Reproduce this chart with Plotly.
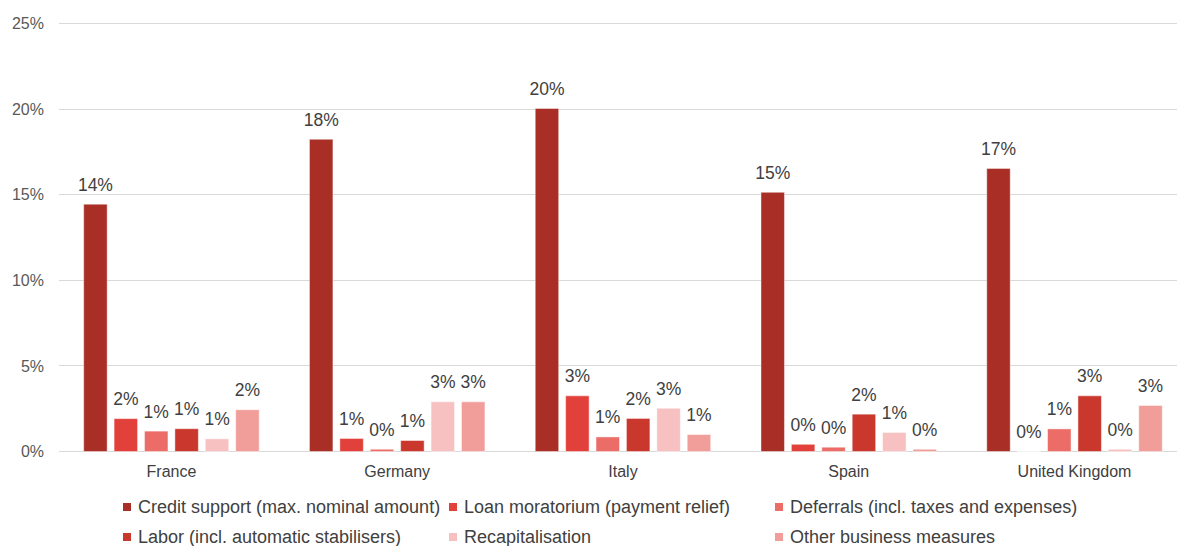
import plotly.graph_objects as go

# ---------------- data (percent of GDP) ----------------
countries = ["France", "Germany", "Italy", "Spain", "United Kingdom"]
series_names = [
    "Credit support (max. nominal amount)",
    "Loan moratorium (payment relief)",
    "Deferrals (incl. taxes and expenses)",
    "Labor (incl. automatic stabilisers)",
    "Recapitalisation",
    "Other business measures",
]
credit_support = [14.45, 18.24, 20.04, 15.14, 16.54]
loan_moratorium = [1.92, 0.76, 3.25, 0.42, 0.0]
deferrals = [1.19, 0.13, 0.85, 0.25, 1.32]
labor = [1.33, 0.64, 1.93, 2.18, 3.25]
recapitalisation = [0.74, 2.90, 2.52, 1.11, 0.13]
other_business = [2.44, 2.90, 0.99, 0.13, 2.69]
y_ticks = [0, 5, 10, 15, 20, 25]
y_tick_labels = [f"{v}%" for v in y_ticks]

series_values = [credit_support, loan_moratorium, deferrals, labor,
                 recapitalisation, other_business]
colors = ["#A92E25", "#E2403A", "#EC6D67", "#C9372D", "#F6C1C0", "#F19E9B"]

FONT = "Liberation Sans, Arial, sans-serif"
LABEL_PAD = 0.38  # gap between bar top and its value label (axis units)

fig = go.Figure()
for i, (name, vals, col) in enumerate(zip(series_names, series_values, colors)):
    fig.add_trace(go.Bar(
        x=countries, y=vals, name=name, offsetgroup=str(i),
        marker=dict(color=col, line=dict(color="rgba(255,255,255,0.45)", width=1)),
        showlegend=False, hoverinfo="x+y+name",
    ))
    # transparent spacer bar carrying the value label above the real bar
    fig.add_trace(go.Bar(
        x=countries, y=[LABEL_PAD] * len(vals), base=vals, offsetgroup=str(i),
        marker=dict(color="rgba(0,0,0,0)", line=dict(width=0)),
        text=[f"{v:.0f}%" for v in vals], textposition="outside",
        constraintext="none", cliponaxis=False,
        textfont=dict(family=FONT, size=17.5, color="#404040"),
        showlegend=False, hoverinfo="skip",
    ))

# ---------------- custom legend (3 columns x 2 rows) ----------------
L, R, T, B = 59, 0, 21, 94
W, H = 1177, 546
pw, ph = W - L - R, H - T - B
Y0, Y1 = -0.03, 25.15


def px_x(px):
    return (px - L) / pw


def px_y(py):
    return (H - B - py) / ph


col_x = [123, 449, 775]
row_y = [507, 537]
shapes, annotations = [], []
for i, (name, col) in enumerate(zip(series_names, colors)):
    cx = col_x[i % 3]
    cy = row_y[i // 3]
    shapes.append(dict(type="rect", xref="paper", yref="paper",
                       x0=px_x(cx), x1=px_x(cx + 8), y0=px_y(cy + 4), y1=px_y(cy - 4),
                       fillcolor=col, line=dict(width=0)))
    annotations.append(dict(xref="paper", yref="paper", x=px_x(cx + 13), y=px_y(cy),
                            xanchor="left", yanchor="middle", showarrow=False,
                            text=name, font=dict(family=FONT, size=18, color="#404040")))

fig.update_layout(
    width=W, height=H,
    margin=dict(l=L, r=R, t=T, b=B, pad=0),
    paper_bgcolor="white", plot_bgcolor="white",
    barmode="group", bargap=0.192, bargroupgap=0.228,
    showlegend=False,
    shapes=shapes, annotations=annotations,
    font=dict(family=FONT, color="#404040"),
    xaxis=dict(type="category", range=[-0.498, 4.454], showgrid=False,
               showline=False, zeroline=False, ticks="",
               ticklabelstandoff=8,
               tickfont=dict(family=FONT, size=16, color="#404040")),
    yaxis=dict(range=[Y0, Y1], tickvals=y_ticks, ticktext=y_tick_labels,
               showgrid=True, gridcolor="#D9D9D9", gridwidth=1,
               showline=False, zeroline=True, zerolinecolor="#D9D9D9",
               zerolinewidth=1, ticks="",
               ticklabelstandoff=14,
               tickfont=dict(family=FONT, size=16, color="#595959")),
)

fig.write_html("out.html", config={"displayModeBar": False},
               post_script="document.body.style.margin='0';")
